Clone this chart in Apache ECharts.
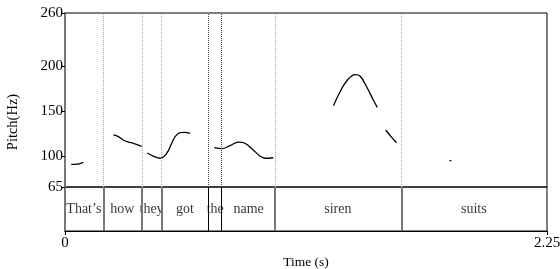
<!DOCTYPE html>
<html>
<head>
<meta charset="utf-8">
<script src="https://cdn.jsdelivr.net/npm/echarts@6/dist/echarts.min.js"></script>
<style>
	html, body { margin: 0; padding: 0; background: #fff; }
	#chart { width: 560px; height: 269px; }
</style>
</head>
<body>
<div id="chart"></div>
<script>
// pitch track, null marks an unvoiced gap
let pitchT = [
	0.029, 0.056, 0.070, 0.085, null,
	0.226, 0.249, 0.272, 0.296, 0.319, 0.358, null,
	0.384, 0.412, 0.444, 0.475, 0.498, 0.514, 0.537, 0.560, 0.584, null,
	0.697, 0.732, 0.770, 0.809, 0.840, 0.879, 0.910, 0.934, 0.972, null,
	1.253, 1.284, 1.315, 1.354, 1.377, 1.408, 1.439, 1.458, null,
	1.497, 1.525, 1.548, null,
	1.795, 1.804,
];
let pitchHz = [
	90.4, 90.6, 91.3, 92.7, null,
	123.3, 121.4, 117.7, 115.4, 114.0, 110.6, null,
	103.1, 99.7, 97.2, 102.8, 114.0, 121.4, 125.9, 126.3, 125.2, null,
	109.0, 107.9, 111.3, 115.4, 114.0, 106.5, 99.7, 97.2, 97.8, null,
	156.1, 171.8, 183.8, 190.9, 189.4, 177.4, 162.5, 154.3, null,
	128.9, 120.7, 114.6, null,
	94.5, 94.5,
];
let boundaries = [0.176, 0.358, 0.450, 0.669, 0.734, 0.980, 1.567];
let words = ['That\u2019s', 'how', 'they', 'got', 'the', 'name', 'siren', 'suits'];
let yTicks = [65, 100, 150, 200, 260];
let xTicks = [0, 2.25];
let tStart = 0;
let tEnd = 2.25;

let font = '"Liberation Serif", "Times New Roman", serif';
let darkBounds = [0.669, 0.734];

let pitchData = pitchT.map((t, i) => [t, pitchHz[i]]);
let edges = [tStart, ...boundaries, tEnd];
let wordData = words.map((w, i) => [(edges[i] + edges[i + 1]) / 2, 0.5]);

let gridBase = {left: 65, right: 13, outerBoundsMode: 'none', containLabel: false};

let chart = echarts.init(document.getElementById('chart'));
chart.setOption({
	animation: false,
	grid: [
		{...gridBase, top: 13, height: 174, show: true, borderColor: '#000', borderWidth: 1},
		{...gridBase, top: 187, height: 44, show: true, borderColor: '#000', borderWidth: 1},
		// whole drawing area, only carries the y title
		{...gridBase, top: 13, height: 218, show: false},
	],
	xAxis: [
		{
			gridIndex: 0, type: 'value', min: tStart, max: tEnd,
			show: false,
		},
		{
			gridIndex: 1, type: 'value', min: tStart, max: tEnd,
			splitLine: {show: false},
			axisLine: {show: true, lineStyle: {color: '#000', width: 1}},
			axisTick: {show: true, length: 4, inside: false, customValues: xTicks, lineStyle: {color: '#000'}},
			axisLabel: {
				customValues: xTicks, margin: 5, color: '#000', fontFamily: font, fontSize: 15,
				formatter: (v) => String(v),
			},
			name: 'Time (s)', nameLocation: 'middle', nameGap: 24,
			nameTextStyle: {color: '#000', fontFamily: font, fontSize: 13.5},
		},
		{
			gridIndex: 2, type: 'value', min: tStart, max: tEnd,
			show: false,
		},
	],
	yAxis: [
		{
			gridIndex: 0, type: 'value', min: 65, max: 260,
			splitLine: {show: false},
			axisLine: {show: true, lineStyle: {color: '#777', width: 2}},
			axisTick: {show: true, length: 4, customValues: yTicks, lineStyle: {color: '#000'}},
			axisLabel: {customValues: yTicks, margin: 2, color: '#000', fontFamily: font, fontSize: 15},
		},
		{
			gridIndex: 1, type: 'value', min: 0, max: 1,
			splitLine: {show: false},
			axisLine: {show: true, lineStyle: {color: '#777', width: 2}},
			axisTick: {show: false},
			axisLabel: {show: false},
		},
		{
			gridIndex: 2, type: 'value', min: 0, max: 1,
			splitLine: {show: false},
			axisLine: {show: false},
			axisTick: {show: false},
			axisLabel: {show: false},
			name: 'Pitch(Hz)', nameLocation: 'middle', nameGap: 44, nameRotate: 90,
			nameTextStyle: {color: '#000', fontFamily: font, fontSize: 14.5},
		},
	],
	series: [
		{
			type: 'line',
			xAxisIndex: 0, yAxisIndex: 0,
			data: [],
			silent: true,
			markLine: {
				silent: true, symbol: 'none', label: {show: false}, animation: false,
				data: boundaries.map((b) => ({
					xAxis: b,
					lineStyle: {
						color: darkBounds.includes(b) ? '#444' : '#aaa',
						type: [1, 1], width: 1,
					},
				})),
			},
		},
		{
			type: 'line',
			xAxisIndex: 1, yAxisIndex: 1,
			data: [],
			silent: true,
			markLine: {
				silent: true, symbol: 'none', label: {show: false}, animation: false,
				data: boundaries.map((b) => ({
					xAxis: b,
					lineStyle: {
						color: darkBounds.includes(b) ? '#000' : '#777',
						type: 'solid', width: darkBounds.includes(b) ? 1 : 2,
					},
				})),
			},
		},
		{
			type: 'line',
			xAxisIndex: 0, yAxisIndex: 0,
			data: pitchData,
			smooth: 0.4,
			connectNulls: false,
			showSymbol: false,
			symbol: 'none',
			lineStyle: {color: '#000', width: 1.3},
			silent: true,
		},
		{
			type: 'scatter',
			xAxisIndex: 1, yAxisIndex: 1,
			data: wordData,
			symbolSize: 0,
			silent: true,
			label: {
				show: true, position: 'inside', color: '#000', fontFamily: font, fontSize: 14,
				formatter: (p) => words[p.dataIndex],
			},
		},
	],
});
</script>
</body>
</html>
